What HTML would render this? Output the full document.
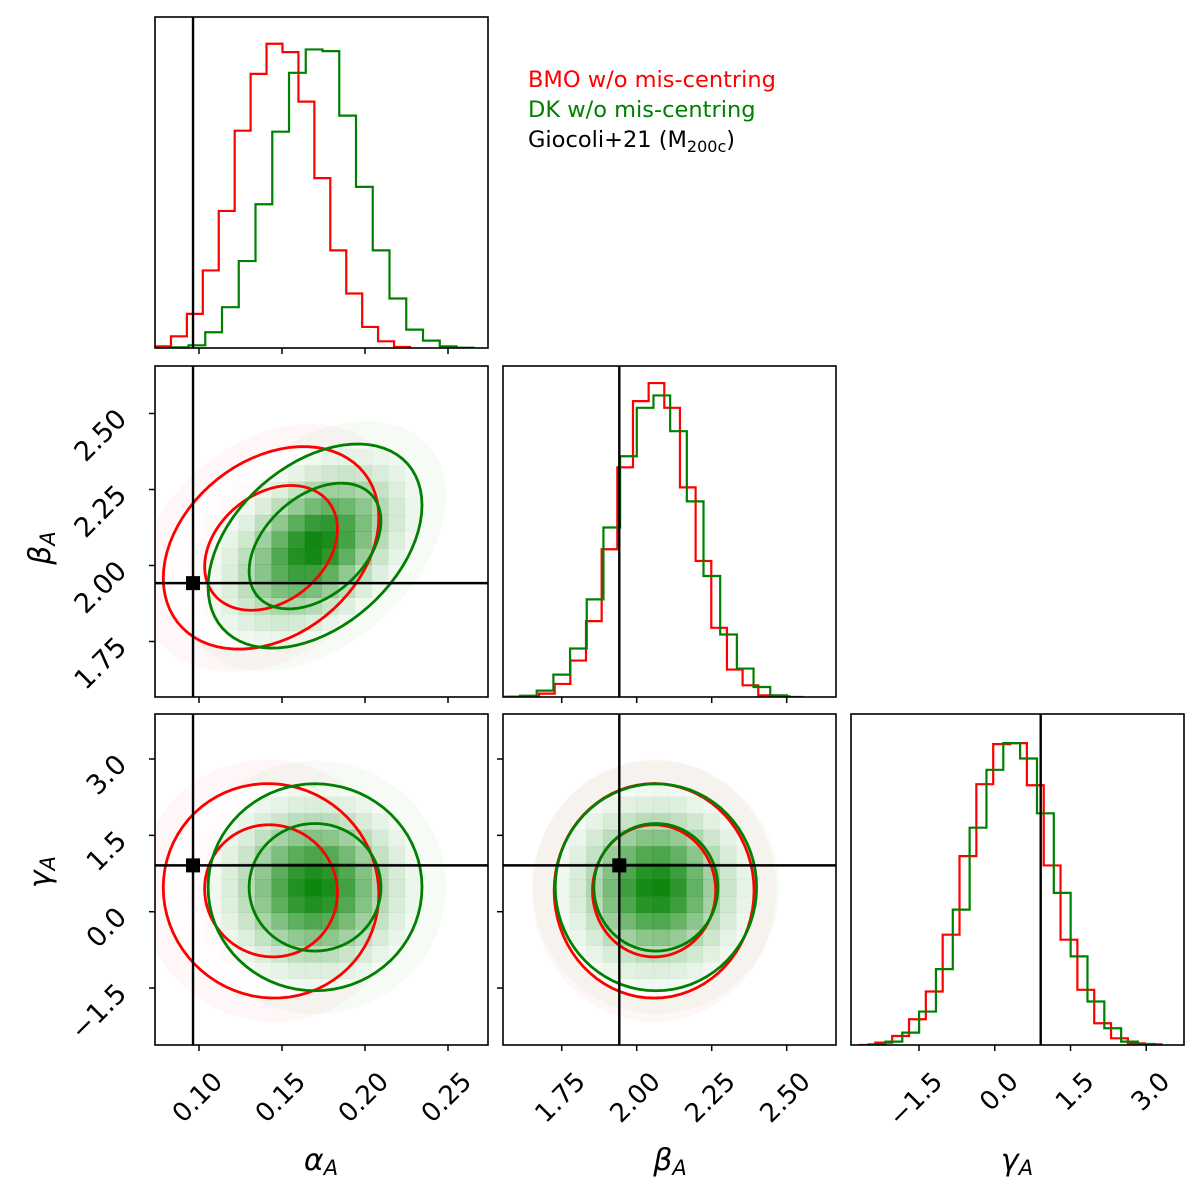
<!DOCTYPE html>
<html><head><meta charset="utf-8">
<style>
html,body{margin:0;padding:0;background:#fff;}
svg{display:block;font-family:"DejaVu Sans","Liberation Sans",sans-serif;}
</style></head>
<body>
<svg id="fig" width="1200" height="1200" viewBox="0 0 1200 1200">
<rect x="0" y="0" width="1200" height="1200" fill="#fff"/>
<g id="legend">
<text x="528" y="87" font-size="22.5" fill="#ff0000">BMO w/o mis-centring</text>
<text x="528" y="117" font-size="22.5" fill="#008000">DK w/o mis-centring</text>
<text x="528" y="147" font-size="22.5" fill="#000">Giocoli+21 (M<tspan font-size="16" dy="5">200c</tspan><tspan dy="-5">)</tspan></text>
</g>
</svg>
<script>
// ---------- data ----------
const alphaTicks=[0.10,0.15,0.20,0.25];
const betaTicks=[1.75,2.00,2.25,2.50];
const gammaTicks=[-1.5,0.0,1.5,3.0];
const alphaTickLabels=["0.10","0.15","0.20","0.25"];
const betaTickLabels=["1.75","2.00","2.25","2.50"];
const gammaTickLabels=["\u22121.5","0.0","1.5","3.0"];
const truthValues=[0.0964,1.942,0.91];
// histograms: bin start, bin width, heights
const alphaRedStart=0.0735, alphaRedWidth=0.0096;
const alphaRedCounts=[5,35,102,232,410,650,820,910,885,737,508,292,163,63,20,3];
const alphaGreenStart=0.0735, alphaGreenWidth=0.01009;
const alphaGreenCounts=[0,2,8,47,122,260,430,647,823,893,888,695,482,292,148,55,22,5,1];
const betaRedStart=1.570, betaRedWidth=0.0522;
const betaRedCounts=[1,2,10,39,109,227,442,687,885,939,865,627,407,207,82,35,5,2];
const betaGreenStart=1.5555, betaGreenWidth=0.0556;
const betaGreenCounts=[1,4,19,67,145,292,507,720,865,902,795,585,362,187,85,30,5,0];
const gammaRedStart=-2.698, gammaRedWidth=0.3334;
const gammaRedCounts=[0,7,27,77,160,330,565,780,900,903,777,537,315,165,65,20,5,2];
const gammaGreenStart=-2.498, gammaGreenWidth=0.3334;
const gammaGreenCounts=[2,10,37,100,227,405,650,823,903,857,693,455,265,130,50,10,3];
// posterior summaries (alpha, beta, gamma)
const redMeans=[0.1434,2.058,0.41];
const redSigmas=[0.0265,0.136,0.86];
const redRhos=[0.30,-0.03,0.0]; // (a,b),(a,g),(b,g)
const greenMeans=[0.1699,2.064,0.48];
const greenSigmas=[0.0263,0.137,0.83];
const greenRhos=[0.40,0.0,0.0];
const contourLevels=[1.51,2.45];

// ---------- layout ----------
const NS="http://www.w3.org/2000/svg";
const svg=document.getElementById('fig');
const colX=[155,503,851], rowY=[17,366,714], PW=333, PH=331;
const sx=[a=>199+(a-0.10)*1660, b=>561.7+(b-1.75)*300, g=>919+(g+1.5)*50.5];
const sxInv=[p=>0.10+(p-199)/1660, p=>1.75+(p-561.7)/300, p=>-1.5+(p-919)/50.5];
const sy=[null, b=>565.5-(b-2.0)*304, g=>911.7-g*50.9];
const syInv=[null, p=>2.0-(p-565.5)/304, p=>-(p-911.7)/50.9];
const ticksArr=[alphaTicks,betaTicks,gammaTicks];
const tickLabArr=[alphaTickLabels,betaTickLabels,gammaTickLabels];

function el(tag,attrs,parent){const e=document.createElementNS(NS,tag);for(const k in attrs)e.setAttribute(k,attrs[k]);(parent||svg).appendChild(e);return e;}
function rhoIdx(i,j){return (i===0&&j===1)?0:(i===0&&j===2)?1:2;}

function histPath(start,width,counts,col,row){
  const bot=rowY[row]+PH, f=sx[col];
  let d="M"+f(start)+","+bot;
  counts.forEach((c,k)=>{const y=bot-c/990*PH;d+=" L"+f(start+k*width)+","+y+" L"+f(start+(k+1)*width)+","+y;});
  d+=" L"+f(start+counts.length*width)+","+bot;
  return d;
}
function ellipsePts(means,sig,rhos,i,j,k){
  const r=rhos[rhoIdx(i,j)], q=Math.sqrt(1-r*r); let pts=[];
  for(let t=0;t<=72;t++){const th=t/72*2*Math.PI;
    const xv=means[i]+k*sig[i]*Math.cos(th);
    const yv=means[j]+k*sig[j]*(r*Math.cos(th)+q*Math.sin(th));
    pts.push(sx[i](xv).toFixed(2)+","+sy[j](yv).toFixed(2));}
  return "M"+pts.join(" L")+" Z";
}
let clipId=0;
function cells(g,means,sig,rhos,i,j,color,maxOp,clipD){
  const cid="clip"+(clipId++);
  const cp=el('clipPath',{id:cid},g); el('path',{d:clipD},cp);
  const cg=el('g',{'clip-path':'url(#'+cid+')'},g);
  
  
  const x0=colX[i], y0=rowY[j], n=20, cw=PW/n, ch=PH/n, r=rhos[rhoIdx(i,j)];
  for(let a=0;a<n;a++)for(let b=0;b<n;b++){
    const xv=sxInv[i](x0+(a+0.5)*cw), yv=syInv[j](y0+(b+0.5)*ch);
    const u=(xv-means[i])/sig[i], v=(yv-means[j])/sig[j];
    const q=(u*u-2*r*u*v+v*v)/(1-r*r); const d=Math.exp(-q/2);
    if(d<0.01)continue;
    const c=el('rect',{x:x0+a*cw,y:y0+b*ch,width:cw+0.3,height:ch+0.3,fill:color,'fill-opacity':(d*maxOp).toFixed(3)},cg);
    
    
  }
}

const panels=[[0,0],[0,1],[1,1],[0,2],[1,2],[2,2]];
const hists={0:[[alphaRedStart,alphaRedWidth,alphaRedCounts],[alphaGreenStart,alphaGreenWidth,alphaGreenCounts]],
             1:[[betaRedStart,betaRedWidth,betaRedCounts],[betaGreenStart,betaGreenWidth,betaGreenCounts]],
             2:[[gammaRedStart,gammaRedWidth,gammaRedCounts],[gammaGreenStart,gammaGreenWidth,gammaGreenCounts]]};
const names=['alpha','beta','gamma'];
panels.forEach(([c,r])=>{
  const g=el('g',{});
  
  
  const x0=colX[c], y0=rowY[r];
  const cid="pc"+(clipId++);
  const cp=el('clipPath',{id:cid},g); el('rect',{x:x0,y:y0,width:PW,height:PH},cp);
  const inner=el('g',{'clip-path':'url(#'+cid+')'},g);
  if(c===r){
    const [red,green]=hists[c];
    const p1=el('path',{d:histPath(red[0],red[1],red[2],c,r),fill:'none',stroke:'#ff0000','stroke-width':2.2},inner);
    
    
    const p2=el('path',{d:histPath(green[0],green[1],green[2],c,r),fill:'none',stroke:'#008000','stroke-width':2.2},inner);
    
    
    const tl=el('line',{x1:sx[c](truthValues[c]),x2:sx[c](truthValues[c]),y1:y0,y2:y0+PH,stroke:'#000','stroke-width':2.4},inner);
    
    
  } else {
    const i=c,j=r;
    const hr=el('path',{d:ellipsePts(redMeans,redSigmas,redRhos,i,j,3.0),fill:'#ff0000','fill-opacity':0.03},inner);
    
    
    const hg=el('path',{d:ellipsePts(greenMeans,greenSigmas,greenRhos,i,j,3.0),fill:'#008000','fill-opacity':0.035},inner);
    
    
    const rOut=ellipsePts(redMeans,redSigmas,redRhos,i,j,contourLevels[1]);
    const gOut=ellipsePts(greenMeans,greenSigmas,greenRhos,i,j,contourLevels[1]);
    el('path',{d:rOut,fill:'#fff'},inner);
    cells(inner,redMeans,redSigmas,redRhos,i,j,'#ff0000',0.08,rOut);
    el('path',{d:gOut,fill:'#fff'},inner);
    cells(inner,greenMeans,greenSigmas,greenRhos,i,j,'#008000',0.95,gOut);
    contourLevels.forEach(k=>{
      const a=el('path',{d:ellipsePts(redMeans,redSigmas,redRhos,i,j,k),fill:'none',stroke:'#ff0000','stroke-width':2.8},inner);
      
      
    });
    contourLevels.forEach(k=>{
      const a=el('path',{d:ellipsePts(greenMeans,greenSigmas,greenRhos,i,j,k),fill:'none',stroke:'#008000','stroke-width':2.8},inner);
      
      
    });
    const tx=sx[i](truthValues[i]), ty=sy[j](truthValues[j]);
    const v=el('line',{x1:tx,x2:tx,y1:y0,y2:y0+PH,stroke:'#000','stroke-width':2.4},inner);
    
    
    const h=el('line',{x1:x0,x2:x0+PW,y1:ty,y2:ty,stroke:'#000','stroke-width':2.4},inner);
    
    
    const m=el('rect',{x:tx-7,y:ty-7,width:14,height:14,fill:'#000'},inner);
    
    
    ticksArr[j].forEach(t=>{el('line',{x1:x0-6,x2:x0,y1:sy[j](t),y2:sy[j](t),stroke:'#000','stroke-width':1.5},g);});
  }
  ticksArr[c].forEach(t=>{el('line',{x1:sx[c](t),x2:sx[c](t),y1:y0+PH,y2:y0+PH+6,stroke:'#000','stroke-width':1.5},g);});
  const fr=el('rect',{x:x0,y:y0,width:PW,height:PH,fill:'none',stroke:'#000','stroke-width':1.6},g);
  
  
});

for(let c=0;c<3;c++){
  ticksArr[c].forEach((t,k)=>{
    const px=sx[c](t)+25, py=1083;
    const tx=el('text',{x:px,y:py,'font-size':26,'text-anchor':'end',transform:'rotate(-45 '+px+' '+py+')'});
    tx.textContent=tickLabArr[c][k];
    
    
  });
}
for(let r=1;r<3;r++){
  ticksArr[r].forEach((t,k)=>{
    const px=128, py=sy[r](t)+7;
    const tx=el('text',{x:px,y:py,'font-size':27,'text-anchor':'end',transform:'rotate(-45 '+px+' '+py+')'});
    tx.textContent=tickLabArr[r][k];
    
    
  });
}
const greek=['\u03b1','\u03b2','\u03b3'];
const xt=[321,670,1017];
for(let c=0;c<3;c++){
  const t=el('text',{x:xt[c],y:1170,'font-size':30,'font-style':'italic','text-anchor':'middle'});
  t.innerHTML=greek[c]+'<tspan font-size="21" dy="5">A</tspan>';
  
  
}
const yt=[null,548,872];
for(let r=1;r<3;r++){
  const t=el('text',{x:50,y:yt[r],'font-size':30,'font-style':'italic','text-anchor':'middle',transform:'rotate(-90 50 '+yt[r]+')'});
  t.innerHTML=greek[r]+'<tspan font-size="21" dy="5">A</tspan>';
  
  
}
svg.appendChild(document.getElementById('legend'));
</script>
</body></html>
